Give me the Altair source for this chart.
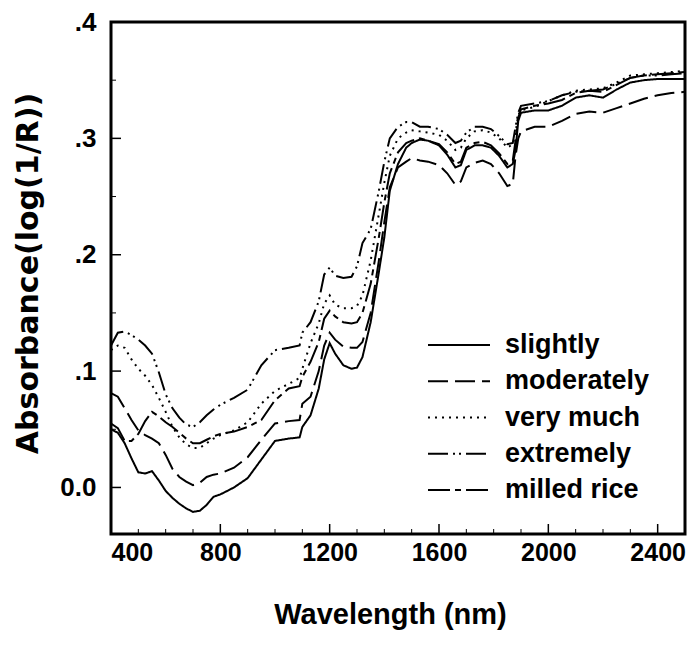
import altair as alt
import pandas as pd

WAVELENGTH = [400, 425, 450, 475, 500, 525, 550, 575, 600, 625, 650, 675, 700, 725, 750, 775, 800,
              850, 900, 950, 1000, 1050, 1090, 1100,
              1130, 1160, 1180, 1200, 1220, 1250, 1280, 1300,
              1320, 1350, 1380, 1400, 1420, 1450, 1480, 1500,
              1530, 1560, 1600, 1630, 1660, 1680, 1700, 1730, 1760, 1790, 1820, 1850, 1870, 1880, 1890, 1900,
              1950, 2000, 2050, 2100, 2150, 2200, 2250, 2300, 2350, 2400, 2450, 2500]

SLIGHTLY = [0.050, 0.047, 0.038, 0.025, 0.013, 0.012, 0.014, 0.006, -0.003, -0.009, -0.014, -0.018, -0.021, -0.020, -0.015, -0.008, -0.006,
            0.000, 0.008, 0.024, 0.040, 0.042, 0.043, 0.052,
            0.062, 0.085, 0.110, 0.124, 0.115, 0.105, 0.102, 0.103,
            0.112, 0.142, 0.185, 0.215, 0.255, 0.278, 0.292, 0.296,
            0.299, 0.298, 0.294, 0.286, 0.275, 0.277, 0.290, 0.294, 0.294, 0.292, 0.285, 0.275, 0.278, 0.290, 0.315, 0.322,
            0.324, 0.324, 0.328, 0.335, 0.337, 0.335, 0.342, 0.348, 0.350, 0.351, 0.351, 0.351]

MODERATELY = [0.081, 0.078, 0.068, 0.058, 0.049, 0.045, 0.042, 0.038, 0.028, 0.016, 0.009, 0.005, 0.002, 0.004, 0.009, 0.011, 0.012,
              0.017, 0.026, 0.041, 0.055, 0.057, 0.058, 0.072,
              0.078, 0.100, 0.122, 0.133, 0.127, 0.121, 0.120, 0.120,
              0.125, 0.150, 0.195, 0.228, 0.258, 0.275, 0.280, 0.283,
              0.281, 0.280, 0.277, 0.270, 0.260, 0.263, 0.275, 0.279, 0.281, 0.278, 0.270, 0.259, 0.261, 0.285, 0.300, 0.306,
              0.310, 0.310, 0.315, 0.321, 0.323, 0.322, 0.326, 0.330, 0.334, 0.337, 0.339, 0.340]

VERY_MUCH = [0.118, 0.122, 0.120, 0.110, 0.102, 0.096, 0.088, 0.077, 0.065, 0.052, 0.043, 0.037, 0.034, 0.034, 0.038, 0.042, 0.045,
             0.049, 0.056, 0.072, 0.083, 0.089, 0.094, 0.102,
             0.124, 0.141, 0.158, 0.165, 0.157, 0.154, 0.154, 0.156,
             0.165, 0.195, 0.235, 0.262, 0.285, 0.300, 0.305, 0.307,
             0.306, 0.305, 0.303, 0.298, 0.290, 0.292, 0.300, 0.306, 0.307, 0.305, 0.300, 0.292, 0.295, 0.305, 0.320, 0.324,
             0.327, 0.332, 0.337, 0.341, 0.342, 0.343, 0.348, 0.354, 0.355, 0.356, 0.357, 0.358]

EXTREMELY = [0.122, 0.133, 0.134, 0.131, 0.127, 0.122, 0.115, 0.099, 0.080, 0.068, 0.060, 0.054, 0.052, 0.056, 0.062, 0.067, 0.071,
             0.077, 0.084, 0.105, 0.118, 0.120, 0.122, 0.133,
             0.142, 0.160, 0.183, 0.189, 0.182, 0.180, 0.181, 0.190,
             0.210, 0.222, 0.255, 0.280, 0.300, 0.310, 0.314, 0.314,
             0.310, 0.310, 0.308, 0.303, 0.296, 0.298, 0.305, 0.310, 0.310, 0.308, 0.302, 0.295, 0.296, 0.310, 0.322, 0.328,
             0.330, 0.332, 0.337, 0.340, 0.341, 0.342, 0.347, 0.352, 0.354, 0.354, 0.355, 0.356]

MILLED_RICE = [0.055, 0.051, 0.040, 0.040, 0.046, 0.057, 0.065, 0.061, 0.056, 0.052, 0.047, 0.042, 0.038, 0.038, 0.041, 0.044, 0.046,
               0.048, 0.052, 0.058, 0.075, 0.085, 0.087, 0.095,
               0.108, 0.125, 0.145, 0.152, 0.147, 0.142, 0.141, 0.142,
               0.150, 0.175, 0.215, 0.245, 0.270, 0.288, 0.296, 0.298,
               0.300, 0.298, 0.295, 0.288, 0.278, 0.280, 0.292, 0.296, 0.297, 0.294, 0.287, 0.278, 0.281, 0.298, 0.318, 0.325,
               0.328, 0.330, 0.333, 0.339, 0.341, 0.340, 0.346, 0.352, 0.354, 0.355, 0.356, 0.357]

SERIES = ["slightly", "moderately", "very much", "extremely", "milled rice"]
DASHES = [[1, 0], [20, 7], [2, 5], [20, 5, 2, 4, 2, 5], [22, 5, 6, 5]]

X_TICKS = [400, 800, 1200, 1600, 2000, 2400]
X_MINOR = [500, 600, 700, 900, 1000, 1100, 1300, 1400, 1500, 1700, 1800, 1900, 2100, 2200, 2300]
Y_TICKS = [0.0, 0.1, 0.2, 0.3, 0.4]
Y_MINOR = [0.05, 0.15, 0.25, 0.35]

W, H = 574, 512
FONT = "Liberation Sans"

rows = []
for name, vals in zip(SERIES, [SLIGHTLY, MODERATELY, VERY_MUCH, EXTREMELY, MILLED_RICE]):
    assert len(vals) == len(WAVELENGTH)
    for w, v in zip(WAVELENGTH, vals):
        rows.append({"wl": w, "absorb": v, "series": name})
df = pd.DataFrame(rows)
leg_df = pd.DataFrame({"series": SERIES})

xs = alt.Scale(domain=[400, 2500], nice=False, zero=False)
ys = alt.Scale(domain=[-0.04, 0.4], nice=False, zero=False)
dash_scale = alt.Scale(domain=SERIES, range=DASHES)
leg_y = alt.Scale(type="point", domain=SERIES, range=[323, 468], padding=0)

lines = alt.Chart(df).mark_line(color="black", strokeWidth=2).encode(
    x=alt.X("wl:Q", scale=xs, axis=alt.Axis(
        values=X_TICKS, format="d", title="Wavelength (nm)", domain=False, ticks=False, grid=False,
        labelFont=FONT, labelFontSize=25, labelFontWeight="bold", labelColor="black", labelPadding=6,
        titleFont=FONT, titleFontSize=29, titleFontWeight="bold", titleColor="black",
        titleX=279, titleY=80, titleBaseline="middle")),
    y=alt.Y("absorb:Q", scale=ys, axis=alt.Axis(
        values=Y_TICKS, title="Absorbance(log(1/R))", domain=False, ticks=False, grid=False,
        labelExpr="datum.value == 0 ? '0.0' : replace(format(datum.value, '.1f'), '0.', '.')",
        labelFont=FONT, labelFontSize=26, labelFontWeight="bold", labelColor="black", labelPadding=15,
        titleFont="DejaVu Sans", titleFontSize=30, titleFontWeight="bold", titleColor="black",
        titleX=-83, titleY=251, titleBaseline="middle", titleAlign="center", titleAngle=270)),
    strokeDash=alt.StrokeDash("series:N", scale=dash_scale, legend=None),
    order="wl:Q",
)

leg_lines = alt.Chart(leg_df).mark_rule(color="black", strokeWidth=2).encode(
    x=alt.value(317), x2=alt.value(379),
    y=alt.Y("series:N", scale=leg_y, axis=None),
    strokeDash=alt.StrokeDash("series:N", scale=dash_scale, legend=None),
)
leg_text = alt.Chart(leg_df).mark_text(
    align="left", baseline="middle", font=FONT, fontSize=27, fontWeight="bold", color="black").encode(
    x=alt.value(394),
    y=alt.Y("series:N", scale=leg_y, axis=None),
    text="series:N",
)

frame = alt.Chart(pd.DataFrame({"frame": [1]})).mark_rect(
    fillOpacity=0, stroke="black", strokeWidth=3).encode(
    x=alt.value(0), x2=alt.value(W), y=alt.value(0), y2=alt.value(H))

xmaj = alt.Chart(pd.DataFrame({"t": X_TICKS})).mark_rule(color="black", strokeWidth=1.5).encode(
    x=alt.X("t:Q", scale=xs), y=alt.value(H), y2=alt.value(H - 10))
xmin = alt.Chart(pd.DataFrame({"t": X_MINOR})).mark_rule(color="black", strokeWidth=1).encode(
    x=alt.X("t:Q", scale=xs), y=alt.value(H), y2=alt.value(H - 5))
ymaj = alt.Chart(pd.DataFrame({"t": Y_TICKS})).mark_rule(color="black", strokeWidth=1.5).encode(
    y=alt.Y("t:Q", scale=ys), x=alt.value(0), x2=alt.value(10))
ymin = alt.Chart(pd.DataFrame({"t": Y_MINOR})).mark_rule(color="black", strokeWidth=1).encode(
    y=alt.Y("t:Q", scale=ys), x=alt.value(0), x2=alt.value(5))

main = alt.layer(lines, xmaj, xmin, ymaj, ymin, frame)
legend = alt.layer(leg_lines, leg_text)

chart = alt.layer(main, legend).resolve_scale(y="independent").properties(
    width=W, height=H,
    autosize=alt.AutoSizeParams(type="none"),
    padding={"left": 111, "top": 22, "right": 7, "bottom": 116},
).configure_view(stroke=None)

chart.save("out.html", embed_options={"renderer": "svg", "actions": False})
